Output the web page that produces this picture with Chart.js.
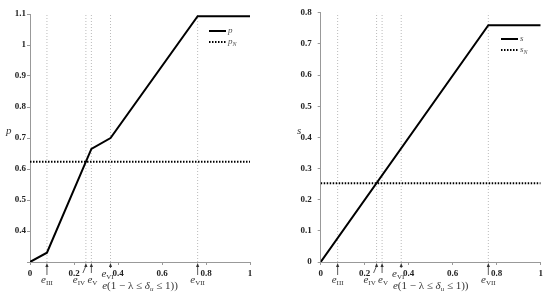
<!DOCTYPE html>
<html>
<head>
<meta charset="utf-8">
<script src="https://cdn.jsdelivr.net/npm/chart.js@4.4.1/dist/chart.umd.min.js"></script>
<style>
  html, body { margin: 0; padding: 0; background: #fff; }
  #wrap { position: relative; width: 550px; height: 296px; }
  .box  { position: absolute; top: 0; width: 275px; height: 296px; }
</style>
</head>
<body>
<div id="wrap">
  <div class="box" style="left:0"><canvas id="chart-p"></canvas></div>
  <div class="box" style="left:275px"><canvas id="chart-s"></canvas></div>
</div>
<script>
/* ── Data ── */
const eX     = [0.077, 0.254, 0.279, 0.366, 0.762];   // e_III .. e_VII
const eNames = ['III', 'IV', 'V', 'VI', 'VII'];
const pX     = [0, 0.077, 0.279, 0.366, 0.762, 1];
const pY     = [0.30, 0.33, 0.665, 0.70, 1.093, 1.093];
const pN     = 0.623;
const sX     = [0, 0.762, 1];
const sY     = [0, 0.76, 0.76];
const sN     = 0.253;

const SERIF = '"Liberation Serif", "DejaVu Serif", serif';

/* label offsets for the e-markers (px, relative to marker) */
const MARK_POS = [
  { dx: 0,  by: 283, tx: 0,  ty: 275 },
  { dx: -7, by: 283, tx: -3, ty: 273 },
  { dx: 1,  by: 283, tx: 0,  ty: 273 },
  { dx: -3, by: 277, tx: 0,  ty: 268 },
  { dx: 0,  by: 283, tx: 0,  ty: 275 }
];

function pts(xs, ys) { return xs.map((x, i) => ({ x, y: ys[i] })); }

function drawE(c, sub, cx, by) {
  c.font = 'italic 11px ' + SERIF;
  const w1 = c.measureText('e').width;
  c.font = '7px ' + SERIF;
  const w2 = c.measureText(sub).width;
  const x = cx - (w1 + w2) / 2;
  c.textAlign = 'left';
  c.font = 'italic 11px ' + SERIF;
  c.fillText('e', x, by);
  c.font = '7px ' + SERIF;
  c.fillText(sub, x + w1, by + 2);
}

/* ── Annotation plugin: arrows, e-labels, axis titles, legend ── */
const annot = {
  id: 'annot',
  afterDraw(chart, args, o) {
    const c = chart.ctx, xs = chart.scales.x, a = chart.chartArea;
    c.save();
    c.fillStyle = '#333';
    c.strokeStyle = '#333';
    c.textBaseline = 'alphabetic';

    /* arrows + labels */
    eX.forEach((v, i) => {
      const px = xs.getPixelForValue(v);
      const m = MARK_POS[i];
      const tip = a.bottom + 1;
      c.lineWidth = 0.8;
      c.beginPath();
      c.moveTo(px + m.tx, m.ty);
      c.lineTo(px, tip + 3);
      c.stroke();
      c.beginPath();
      c.moveTo(px, tip);
      c.lineTo(px - 1.6, tip + 4);
      c.lineTo(px + 1.6, tip + 4);
      c.closePath();
      c.fill();
      drawE(c, eNames[i], px + m.dx, m.by);
    });

    /* x title: e(1 − λ ≤ δu ≤ 1)) */
    const parts = [
      ['italic 11px', 'e', 0], ['11px', '(1 − λ ≤ ', 0],
      ['italic 11px', 'δ', 0], ['italic 7px', 'u', 2], ['11px', ' ≤ 1))', 0]
    ];
    let tw = 0;
    parts.forEach(p => { c.font = p[0] + ' ' + SERIF; tw += c.measureText(p[1]).width; });
    let x = (a.left + a.right) / 2 - tw / 2;
    c.textAlign = 'left';
    parts.forEach(p => {
      c.font = p[0] + ' ' + SERIF;
      c.fillText(p[1], x, 289 + p[2]);
      x += c.measureText(p[1]).width;
    });

    /* y title */
    c.font = 'italic 11px ' + SERIF;
    c.fillText(o.yTitle, o.yTitleX, 134);

    /* legend */
    const ds = chart.data.datasets;
    o.legend.forEach((L, i) => {
      const d = ds[L.ds];
      const ly = o.legendY + i * 11;
      c.strokeStyle = d.borderColor;
      c.lineWidth = d.borderWidth;
      c.setLineDash(d.borderDash || []);
      c.beginPath();
      c.moveTo(o.legendX, ly);
      c.lineTo(o.legendX + 17, ly);
      c.stroke();
      c.setLineDash([]);
      c.fillStyle = '#555';
      c.font = 'italic 9px ' + SERIF;
      c.fillText(L.text, o.legendX + 19, ly + 2);
      if (L.sub) {
        const w = c.measureText(L.text).width;
        c.font = 'italic 6px ' + SERIF;
        c.fillText(L.sub, o.legendX + 19 + w, ly + 4);
      }
    });
    c.restore();
  }
};

function markerSets(yMin, yMax) {
  return eX.map(v => ({
    data: [{ x: v, y: yMin }, { x: v, y: yMax }],
    borderColor: '#a8a8a8',
    borderWidth: 0.8,
    borderDash: [1, 2],
    pointRadius: 0,
    order: 5
  }));
}

function makeChart(id, cfg) {
  const tickFont = { family: SERIF, size: 9, weight: 'bold' };
  return new Chart(document.getElementById(id), {
    type: 'line',
    data: {
      datasets: [
        {
          data: cfg.main,
          borderColor: '#000',
          borderWidth: 2,
          pointRadius: 0,
          tension: 0,
          order: 0
        },
        {
          data: [{ x: 0, y: cfg.level }, { x: 1, y: cfg.level }],
          borderColor: '#000',
          borderWidth: 2,
          borderDash: [1.5, 1.5],
          pointRadius: 0,
          order: 1
        },
        ...markerSets(cfg.yMin, cfg.yMax)
      ]
    },
    options: {
      responsive: true,
      maintainAspectRatio: false,
      animation: false,
      layout: { padding: cfg.pad },
      plugins: {
        legend: { display: false },
        tooltip: { enabled: false },
        annot: cfg.annot
      },
      scales: {
        x: {
          type: 'linear',
          min: 0, max: 1,
          afterFit: s => { s.height = 34; },
          ticks: {
            stepSize: 0.2,
            color: '#222',
            font: tickFont,
            padding: 3,
            maxRotation: 0,
            callback: v => +v.toFixed(1)
          },
          grid: { drawOnChartArea: false, drawTicks: true, tickLength: 3, color: '#999' },
          border: { color: '#999', width: 1 }
        },
        y: {
          min: cfg.yMin, max: cfg.yMax,
          afterFit: s => { s.width = cfg.yWidth; },
          ticks: {
            stepSize: 0.1,
            color: '#222',
            font: tickFont,
            padding: cfg.yPad,
            callback: v => (v < cfg.yMin + 0.05 && cfg.hideFirst) ? '' : +v.toFixed(1)
          },
          grid: { drawOnChartArea: false, drawTicks: true, tickLength: 3, color: '#999' },
          border: { color: '#999', width: 1 }
        }
      }
    },
    plugins: [annot]
  });
}

/* ── Left: p ── */
makeChart('chart-p', {
  main: pts(pX, pY),
  level: pN,
  yMin: 0.3, yMax: 1.1,
  hideFirst: true,
  yWidth: 30,
  yPad: 1,
  pad: { top: 14, right: 25, left: 0, bottom: 0 },
  annot: {
    yTitle: 'p', yTitleX: 6,
    legendX: 209, legendY: 31,
    legend: [{ ds: 0, text: 'p' }, { ds: 1, text: 'p', sub: 'N' }]
  }
});

/* ── Right: s ── */
makeChart('chart-s', {
  main: pts(sX, sY),
  level: sN,
  yMin: 0, yMax: 0.8,
  hideFirst: false,
  yWidth: 45.7,
  yPad: 6,
  pad: { top: 12.7, right: 9.3, left: 0, bottom: 0 },
  annot: {
    yTitle: 's', yTitleX: 22,
    legendX: 226, legendY: 39,
    legend: [{ ds: 0, text: 's' }, { ds: 1, text: 's', sub: 'N' }]
  }
});
</script>
</body>
</html>
